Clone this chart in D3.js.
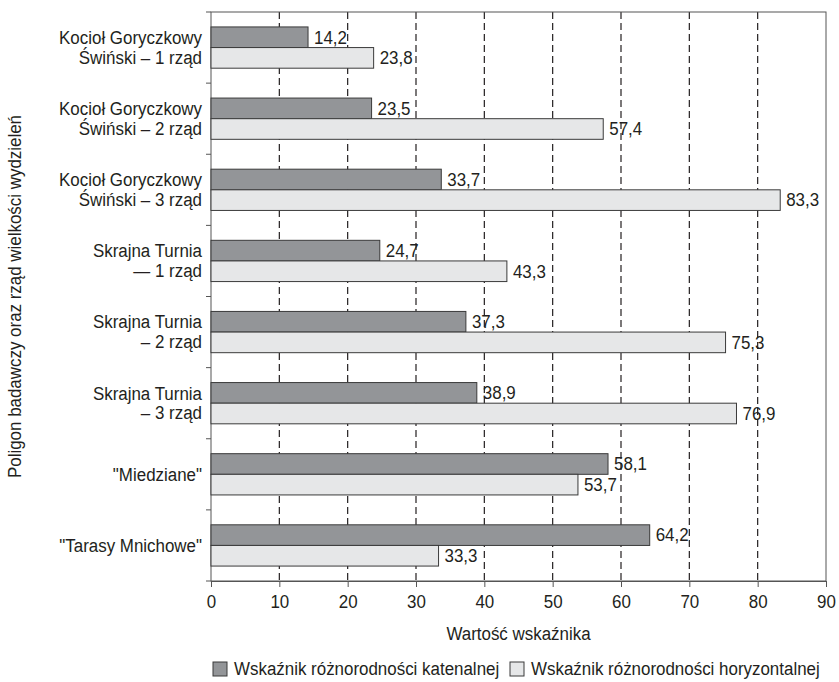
<!DOCTYPE html>
<html>
<head>
<meta charset="utf-8">
<script src="https://cdn.jsdelivr.net/npm/d3@7"></script>
<style>
  body { margin: 0; background: #fff; }
  svg text { font-family: "Liberation Sans", Arial, sans-serif; fill: #231f20; }
</style>
</head>
<body>
<svg id="chart" width="839" height="682"></svg>
<script>
// Categories (two-line labels split by "|")
const categories = [
  "Kocioł Goryczkowy|Świński – 1 rząd",
  "Kocioł Goryczkowy|Świński – 2 rząd",
  "Kocioł Goryczkowy|Świński – 3 rząd",
  "Skrajna Turnia|— 1 rząd",
  "Skrajna Turnia|– 2 rząd",
  "Skrajna Turnia|– 3 rząd",
  "\"Miedziane\"",
  "\"Tarasy Mnichowe\""
];
const katenalna = [14.2, 23.5, 33.7, 24.7, 37.3, 38.9, 58.1, 64.2];
const horyzontalna = [23.8, 57.4, 83.3, 43.3, 75.3, 76.9, 53.7, 33.3];
const seriesNames = ["Wskaźnik różnorodności katenalnej", "Wskaźnik różnorodności horyzontalnej"];
const xTicks = [0, 10, 20, 30, 40, 50, 60, 70, 80, 90];

const svg = d3.select("#chart");
const m = { left: 211, right: 826, top: 12, bottom: 581 };
const fontSize = 18;
const condense = 0.94; // horizontal squeeze for a narrow typeface look

const x = d3.scaleLinear().domain([0, 90]).range([m.left, m.right]);
const y = d3.scaleBand().domain(categories).range([m.top, m.bottom]).paddingInner(0.42).paddingOuter(0.21);
const sub = d3.scaleBand().domain([0, 1]).range([0, y.bandwidth()]).padding(0);

const colors = ["#939598", "#e6e7e8"];
const fmt = v => v.toFixed(1).replace(".", ",");

// Dashed vertical grid lines
svg.append("g").selectAll("line").data(xTicks.filter(t => t > 0 && t < 90)).join("line")
  .attr("x1", d => x(d)).attr("x2", d => x(d))
  .attr("y1", m.top).attr("y2", m.bottom)
  .attr("stroke", "#231f20").attr("stroke-width", 1.2).attr("stroke-dasharray", "7,4");

// Plot frame
svg.append("rect").attr("x", m.left).attr("y", m.top)
  .attr("width", m.right - m.left).attr("height", m.bottom - m.top)
  .attr("fill", "none").attr("stroke", "#555").attr("stroke-width", 1);

// Bars
const data = categories.map((c, i) => ({ c, vals: [katenalna[i], horyzontalna[i]] }));
const groups = svg.append("g").selectAll("g").data(data).join("g")
  .attr("transform", d => `translate(0,${y(d.c)})`);
groups.selectAll("rect").data(d => d.vals.map((v, k) => ({ v, k }))).join("rect")
  .attr("x", x(0))
  .attr("y", d => sub(d.k))
  .attr("width", d => x(d.v) - x(0))
  .attr("height", sub.bandwidth())
  .attr("fill", d => colors[d.k])
  .attr("stroke", "#3a3a3a").attr("stroke-width", 1);
groups.selectAll("text").data(d => d.vals.map((v, k) => ({ v, k }))).join("text")
  .attr("x", d => x(d.v) + 6)
  .attr("y", d => sub(d.k) + sub.bandwidth() / 2)
  .attr("dy", "0.35em")
  .attr("font-size", fontSize)
  .text(d => fmt(d.v));

// X axis
const xAxis = svg.append("g").attr("transform", `translate(0,${m.bottom})`)
  .call(d3.axisBottom(x).tickValues(xTicks).tickSize(6).tickPadding(8).tickFormat(d3.format("d")));
xAxis.attr("font-family", null);
xAxis.select(".domain").attr("stroke", "#555");
xAxis.selectAll(".tick line").attr("stroke", "#555");
xAxis.selectAll("text").attr("font-size", fontSize).attr("fill", "#231f20");

// Y axis boundary ticks
const bounds = categories.map(c => y(c) - y.step() * y.paddingInner() / 2).concat([m.bottom]);
svg.append("g").selectAll("line").data(bounds).join("line")
  .attr("x1", m.left - 5).attr("x2", m.left)
  .attr("y1", d => d).attr("y2", d => d)
  .attr("stroke", "#555");

// Category labels
const catText = svg.append("g").selectAll("text").data(categories).join("text")
  .attr("text-anchor", "end")
  .attr("font-size", fontSize)
  .attr("x", m.left - 9)
  .attr("y", c => y(c) + y.bandwidth() / 2);
catText.each(function (c) {
  const lines = c.split("|");
  const t = d3.select(this);
  lines.forEach((ln, i) => {
    t.append("tspan").attr("x", m.left - 9)
      .attr("dy", i === 0 ? `${0.35 - (lines.length - 1) * 0.55}em` : "1.1em")
      .text(ln);
  });
});

// Axis titles
svg.append("text").attr("x", (m.left + m.right) / 2).attr("y", 640)
  .attr("text-anchor", "middle").attr("font-size", fontSize).text("Wartość wskaźnika");
svg.append("text")
  .attr("transform", `translate(21,${(m.top + m.bottom) / 2}) rotate(-90)`)
  .attr("text-anchor", "middle").attr("font-size", fontSize)
  .text("Poligon badawczy oraz rząd wielkości wydzieleń");

// Legend
const legend = svg.append("g").attr("transform", "translate(213,669)");
const lx = [0, 297];
seriesNames.forEach((name, i) => {
  const g = legend.append("g").attr("transform", `translate(${lx[i]},0)`);
  g.append("rect").attr("x", 0).attr("y", -7).attr("width", 14).attr("height", 14)
    .attr("fill", colors[i]).attr("stroke", "#3a3a3a");
  g.append("text").attr("x", 21).attr("y", 0).attr("dy", "0.35em")
    .attr("font-size", fontSize).text(name);
});

// Squeeze every text run horizontally
svg.selectAll("text").each(function () {
  const el = d3.select(this);
  const spans = el.selectAll("tspan");
  if (spans.size()) {
    spans.each(function () {
      const w = this.getComputedTextLength();
      d3.select(this).attr("textLength", w * condense).attr("lengthAdjust", "spacingAndGlyphs");
    });
  } else {
    const w = this.getComputedTextLength();
    el.attr("textLength", w * condense).attr("lengthAdjust", "spacingAndGlyphs");
  }
});
</script>
</body>
</html>
